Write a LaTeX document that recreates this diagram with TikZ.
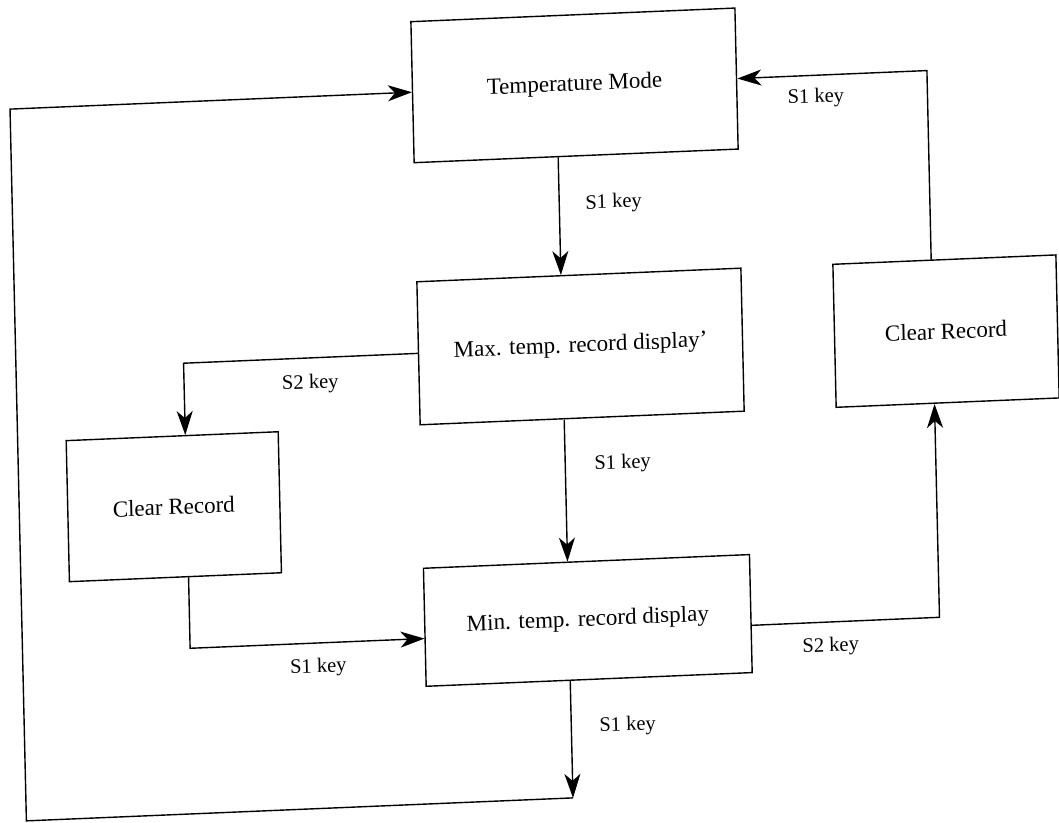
\documentclass[tikz,border=0pt]{standalone}
\usepackage{fontspec}
\setmainfont{Liberation Serif}
\usetikzlibrary{arrows.meta,calc}
\tikzset{
  box/.style={draw, line width=1.4pt, inner sep=0pt, font=\fontsize{23}{27}\selectfont},
  lbl/.style={inner sep=0pt, font=\fontsize{20.5}{24}\selectfont},
  conn/.style={line width=1.4pt},
  arr/.style={conn, -{Stealth[length=24pt,width=16pt,inset=7pt]}}
}
\begin{document}
\begin{tikzpicture}[x=1pt,y=-1pt]
\useasboundingbox (0,0) rectangle (1059,822);
\begin{scope}[cm={1,0.042,-0.023,1,(0,0)}, transform shape]
  % boxes
  \node[box, minimum width=324pt, minimum height=141pt] (tm) at (572,109.4) {Temperature Mode};
  \node[box, minimum width=324pt, minimum height=143pt] (max) at (572,370.5) {Max. temp. record display'};
  \node[box, minimum width=326pt, minimum height=118pt] (min) at (573,644.5) {Min. temp. record display};
  \node[box, minimum width=212pt, minimum height=141pt] (crl) at (162,513.5) {Clear Record};
  \node[box, minimum width=223pt, minimum height=143pt] (crr) at (937.5,370.5) {Clear Record};
  % corner coordinates
  \coordinate (c1) at (554,821);
  \coordinate (c2) at (7.5,821);
  \coordinate (c3) at (7.5,109.4);
  \coordinate (c4) at (924.2,656);
  \coordinate (c5) at (924.2,109.4);
  \coordinate (c6) at (175,370.5);
  \coordinate (c7) at (175,655.5);
  % vertical chain
  \draw[arr] ($(tm.south west)!0.4444!(tm.south east)$) -- ($(max.north west)!0.4444!(max.north east)$);
  \draw[arr] ($(max.south west)!0.4444!(max.south east)$) -- ($(min.north west)!0.4417!(min.north east)$);
  \draw[arr] ($(min.south west)!0.4417!(min.south east)$) -- (c1);
  \draw[arr] (c1) -- (c2) -- (c3) -- (tm.west);
  % left branch
  \draw[arr] (max.west) -- (c6) -- ($(crl.north west)!0.5613!(crl.north east)$);
  \draw[arr] ($(crl.south west)!0.5613!(crl.south east)$) -- (c7) -- ($(min.north west)!0.5932!(min.south west)$);
  % right branch
  \draw[arr] ($(min.north east)!0.5975!(min.south east)$) -- (c4) -- ($(crr.south west)!0.4404!(crr.south east)$);
  \draw[arr] ($(crr.north west)!0.4404!(crr.north east)$) -- (c5) -- (tm.east);
  % labels
  \node[lbl] (l1) at (812.8,132) {S1 key};
  \node[lbl] (l2) at (608.4,228.5) {S1 key};
  \node[lbl] (l3) at (301.2,396.5) {S2 key};
  \node[lbl] (l4) at (611.4,489.5) {S1 key};
  \node[lbl] (l5) at (302.7,680.5) {S1 key};
  \node[lbl] (l6) at (815.1,681) {S2 key};
  \node[lbl] (l7) at (610.3,751.5) {S1 key};
\end{scope}
\end{tikzpicture}
\end{document}
